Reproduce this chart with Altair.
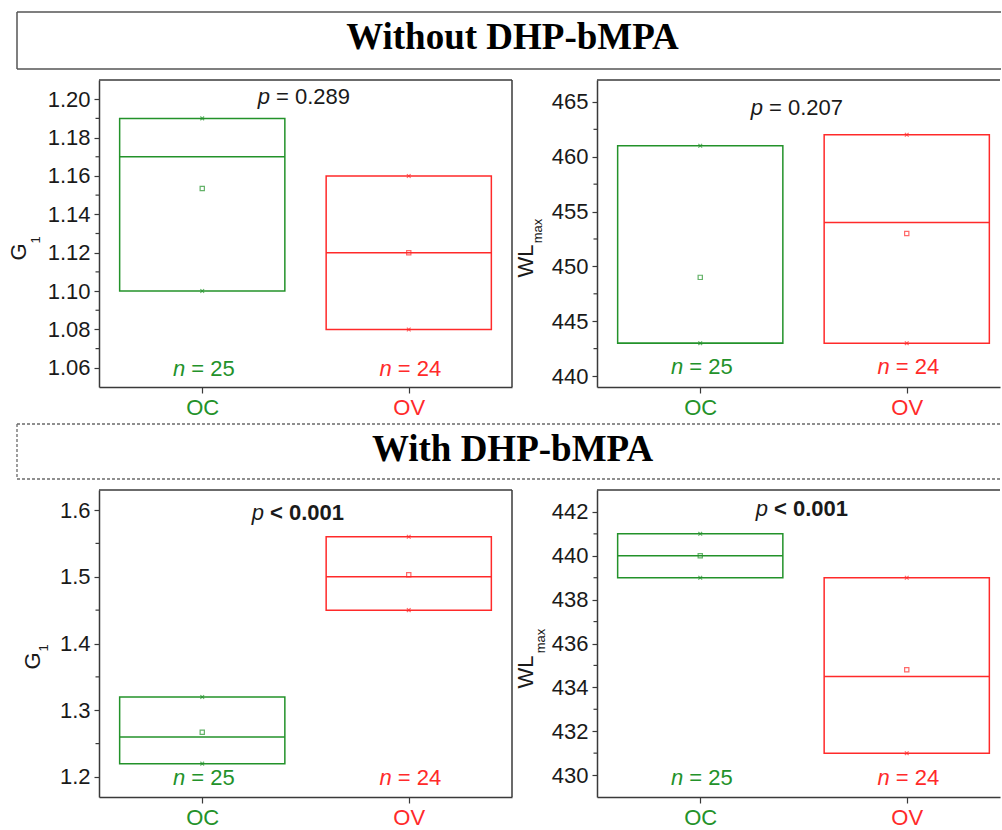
import altair as alt
import pandas as pd

# ---------------------------------------------------------------- data
groups = ["OC", "OV"]
group_pos = [1, 2]
sample_sizes = [25, 24]

header_titles = ["Without DHP-bMPA", "With DHP-bMPA"]

# G1, without DHP-bMPA
g1_plain_q1 = [1.10, 1.08]
g1_plain_q3 = [1.19, 1.16]
g1_plain_median = [1.17, 1.12]
g1_plain_mean = [1.1535, 1.12]
g1_plain_low = [1.10, 1.08]
g1_plain_high = [1.19, 1.16]
g1_plain_p = "= 0.289"
g1_plain_ticks = [1.06, 1.08, 1.10, 1.12, 1.14, 1.16, 1.18, 1.20]
g1_plain_minor = [1.07, 1.09, 1.11, 1.13, 1.15, 1.17, 1.19]

# WLmax, without DHP-bMPA
wl_plain_q1 = [443, 443]
wl_plain_q3 = [461, 462]
wl_plain_median = [443, 454]
wl_plain_mean = [449, 453]
wl_plain_low = [443, 443]
wl_plain_high = [461, 462]
wl_plain_p = "= 0.207"
wl_plain_ticks = [440, 445, 450, 455, 460, 465]
wl_plain_minor = [442.5, 447.5, 452.5, 457.5, 462.5]

# G1, with DHP-bMPA
g1_dhp_q1 = [1.22, 1.45]
g1_dhp_q3 = [1.32, 1.56]
g1_dhp_median = [1.26, 1.50]
g1_dhp_mean = [1.267, 1.503]
g1_dhp_low = [1.22, 1.45]
g1_dhp_high = [1.32, 1.56]
g1_dhp_p = "< 0.001"
g1_dhp_ticks = [1.2, 1.3, 1.4, 1.5, 1.6]
g1_dhp_minor = [1.25, 1.35, 1.45, 1.55]

# WLmax, with DHP-bMPA
wl_dhp_q1 = [439, 431]
wl_dhp_q3 = [441, 439]
wl_dhp_median = [440, 434.5]
wl_dhp_mean = [440, 434.8]
wl_dhp_low = [439, 431]
wl_dhp_high = [441, 439]
wl_dhp_p = "< 0.001"
wl_dhp_ticks = [430, 432, 434, 436, 438, 440, 442]
wl_dhp_minor = [431, 433, 435, 437, 439, 441]

# ---------------------------------------------------------------- style
SANS = "Liberation Sans"
SERIF = "Liberation Serif"
GREEN = "#23922a"
RED = "#ff2a2a"
FRAME = "#3a3a3a"
INK = "#1a1a1a"
HALF_BOX = 0.4
PANEL_H = 307
LEFT_W = 413
RIGHT_W = 403
PX_PER_UNIT = 206.5
CROSS = "M-1,-1L1,1M-1,1L1,-1"

color = alt.Color("group:N", scale=alt.Scale(domain=groups, range=[GREEN, RED]), legend=None)


def box_panel(q1, q3, median, mean, low, high, p_text, p_bold,
              y_domain, y_ticks, y_minor, y_format, width,
              title, sub, title_xy, sub_xy, p_split, p_y, n_y, right_border):
    df = pd.DataFrame({
        "group": groups, "pos": group_pos, "q1": q1, "q3": q3,
        "median": median, "mean": mean, "low": low, "high": high,
        "n": [f"= {n}" for n in sample_sizes],
    })
    df["left"] = df["pos"] - HALF_BOX
    df["right"] = df["pos"] + HALF_BOX

    xs = alt.Scale(domain=[0.5, 0.5 + width / PX_PER_UNIT], nice=False, zero=False)
    ys = alt.Scale(domain=y_domain, nice=False, zero=False)
    label_list = "[" + ",".join(f"'{g}'" for g in groups) + "]"
    x_axis = alt.Axis(
        values=group_pos, labelExpr=f"{label_list}[datum.value - 1]", title=None,
        tickSize=6, labelPadding=4, grid=False, labelFontSize=22, labelFont=SANS,
        labelColor={"condition": {"test": "datum.value == 1", "value": GREEN}, "value": RED},
        labelOverlap=False,
    )
    y_axis = alt.Axis(
        values=y_ticks, format=y_format, title=None, tickSize=5, labelPadding=4,
        grid=False, labelFontSize=22, labelFont=SANS, labelColor=INK, labelOverlap=False,
    )

    def X(field):
        return alt.X(field, scale=xs, axis=x_axis)

    def Y(field):
        return alt.Y(field, scale=ys, axis=y_axis)

    base = alt.Chart(df)
    one = alt.Chart(pd.DataFrame({"k": [0]}))

    boxes = base.mark_rect(filled=False, strokeWidth=1.5).encode(
        x=X("left:Q"), x2="right:Q", y=Y("q1:Q"), y2="q3:Q", color=color,
    )
    medians = base.mark_rule(strokeWidth=1.5).encode(
        x=X("left:Q"), x2="right:Q", y=Y("median:Q"), color=color,
    )
    means = base.mark_point(shape="square", filled=False, size=18, strokeWidth=1.2).encode(
        x=X("pos:Q"), y=Y("mean:Q"), color=color,
    )
    extremes = base.transform_fold(["low", "high"], as_=["stat", "val"]).mark_point(
        shape=CROSS, filled=False, size=14, strokeWidth=1.1
    ).encode(x=X("pos:Q"), y=Y("val:Q"), color=color)
    minor = alt.Chart(pd.DataFrame({"v": y_minor})).mark_rule(color=FRAME, strokeWidth=1.2).encode(
        y=Y("v:Q"), x=alt.value(-3.5), x2=alt.value(0),
    )
    n_sym = base.mark_text(font=SANS, fontSize=22, fontStyle="italic", align="right",
                           baseline="middle", dx=-17).encode(
        x=X("pos:Q"), y=alt.value(n_y), text=alt.value("n"), color=color,
    )
    n_rest = base.mark_text(font=SANS, fontSize=22, align="left", baseline="middle", dx=-11).encode(
        x=X("pos:Q"), y=alt.value(n_y), text="n:N", color=color,
    )
    p_sym = one.mark_text(font=SANS, fontSize=22, fontStyle="italic", align="right",
                          baseline="middle", color=INK).encode(
        x=alt.value(p_split), y=alt.value(p_y), text=alt.value("p"),
    )
    p_rest = one.mark_text(font=SANS, fontSize=22, align="left", baseline="middle", color=INK,
                           fontWeight="bold" if p_bold else "normal").encode(
        x=alt.value(p_split + 6), y=alt.value(p_y), text=alt.value(p_text),
    )
    t_main = one.mark_text(font=SANS, fontSize=22, angle=270, align="center",
                           baseline="middle", color=INK).encode(
        x=alt.value(title_xy[0]), y=alt.value(title_xy[1]), text=alt.value(title),
    )
    t_sub = one.mark_text(font=SANS, fontSize=13, angle=270, align="center",
                          baseline="middle", color=INK).encode(
        x=alt.value(sub_xy[0]), y=alt.value(sub_xy[1]), text=alt.value(sub),
    )
    top = one.mark_rule(color=FRAME, strokeWidth=1.5).encode(
        x=alt.value(0), x2=alt.value(width), y=alt.value(0),
    )
    layers = [boxes, medians, means, extremes, minor, n_sym, n_rest, p_sym, p_rest, t_main, t_sub, top]
    if right_border:
        layers.append(one.mark_rule(color=FRAME, strokeWidth=1.5).encode(
            x=alt.value(width), y=alt.value(0), y2=alt.value(PANEL_H),
        ))
    return alt.layer(*layers).properties(width=width, height=PANEL_H)


def header(text, height, box_top, baseline_y, dashed, anchor=False):
    one = alt.Chart(pd.DataFrame({"k": [0]}))
    line_kw = dict(color="#555555", strokeWidth=1.5)
    if dashed:
        line_kw = dict(color="#6a6a6a", strokeWidth=1.3, strokeDash=[3, 2])
    layers = [
        one.mark_rule(**line_kw).encode(x=alt.value(-82), x2=alt.value(902), y=alt.value(box_top)),
        one.mark_rule(**line_kw).encode(x=alt.value(-82), x2=alt.value(902), y=alt.value(height)),
        one.mark_rule(**line_kw).encode(x=alt.value(-82), y=alt.value(box_top), y2=alt.value(height)),
        one.mark_text(font=SERIF, fontSize=37, fontWeight="bold", align="center",
                      baseline="alphabetic", color="#000000").encode(
            x=alt.value(413.5), y=alt.value(baseline_y), text=alt.value(text),
        ),
    ]
    if anchor:
        # pins the page origin: 99 px left of and 12 px above this view
        layers.append(one.mark_rect(opacity=0).encode(
            x=alt.value(-99), x2=alt.value(-98), y=alt.value(-12), y2=alt.value(-11),
        ))
    return alt.layer(*layers).properties(width=LEFT_W, height=height)


def spacer(height):
    return alt.Chart(pd.DataFrame({"k": [0]})).mark_text(text="").encode(
        x=alt.value(0), y=alt.value(0)
    ).properties(width=RIGHT_W, height=height)


p1 = box_panel(g1_plain_q1, g1_plain_q3, g1_plain_median, g1_plain_mean, g1_plain_low, g1_plain_high,
               g1_plain_p, False, [1.05, 1.21], g1_plain_ticks, g1_plain_minor, ".2f", LEFT_W,
               "G", "1", (-80, 172), (-63, 160), 171, 17, 289, True)
p2 = box_panel(wl_plain_q1, wl_plain_q3, wl_plain_median, wl_plain_mean, wl_plain_low, wl_plain_high,
               wl_plain_p, False, [439, 467], wl_plain_ticks, wl_plain_minor, "d", RIGHT_W,
               "WL", "max", (-71, 181), (-59, 151), 166, 28, 287, False)
p3 = box_panel(g1_dhp_q1, g1_dhp_q3, g1_dhp_median, g1_dhp_mean, g1_dhp_low, g1_dhp_high,
               g1_dhp_p, True, [1.17, 1.63], g1_dhp_ticks, g1_dhp_minor, ".1f", LEFT_W,
               "G", "1", (-66, 171), (-55, 158), 165, 23, 288, True)
p4 = box_panel(wl_dhp_q1, wl_dhp_q3, wl_dhp_median, wl_dhp_mean, wl_dhp_low, wl_dhp_high,
               wl_dhp_p, True, [429, 443], wl_dhp_ticks, wl_dhp_minor, "d", RIGHT_W,
               "WL", "max", (-71, 182), (-56, 151), 171, 19, 288, False)

h1 = header(header_titles[0], 57, 0, 37, False, anchor=True)
h2 = header(header_titles[1], 81, 26, 63, True)

chart = alt.concat(
    h1, spacer(57), p1, p2, h2, spacer(81), p3, p4,
    columns=2, spacing={"row": 11, "column": 85}, bounds="flush",
).resolve_scale(x="independent", y="independent").properties(
    padding=0
).configure_view(stroke=None).configure_axis(
    domainColor=FRAME, domainWidth=1.5, tickColor=FRAME, tickWidth=1.2,
)

chart.save("out.html", embed_options={"renderer": "svg", "actions": False})
